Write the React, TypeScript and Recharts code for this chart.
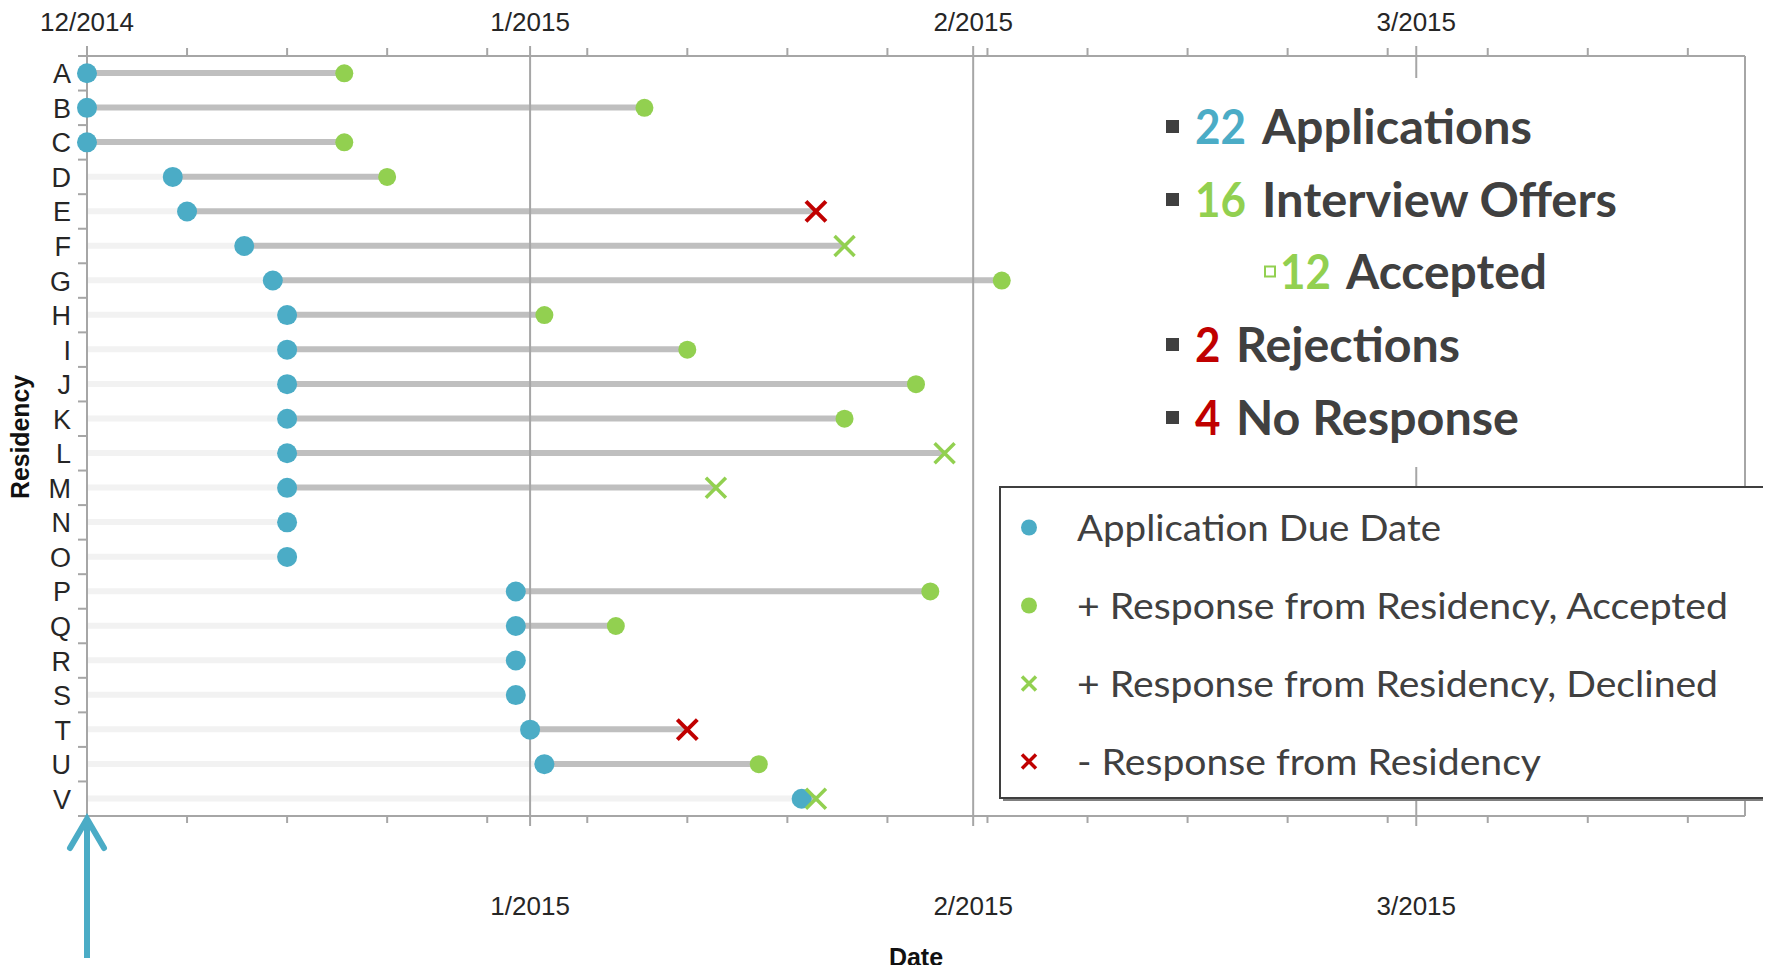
import React from "react";
import { ComposedChart, Bar, Scatter, XAxis, YAxis, ReferenceLine, Legend } from "recharts";

// Residencies, application due day and response day (days since 12/1/2014)
const residencies = ["A", "B", "C", "D", "E", "F", "G", "H", "I", "J", "K", "L", "M", "N", "O", "P", "Q", "R", "S", "T", "U", "V"];
const dueDay = [0, 0, 0, 6, 7, 11, 13, 14, 14, 14, 14, 14, 14, 14, 14, 30, 30, 30, 30, 31, 32, 50];
const responseDay = [18, 39, 18, 21, 51, 53, 64, 32, 42, 58, 53, 60, 44, null, null, 59, 37, null, null, 42, 47, 51];
const outcome = [
  "accepted", "accepted", "accepted", "accepted", "rejected", "declined", "accepted", "accepted", "accepted",
  "accepted", "accepted", "declined", "declined", "none", "none", "accepted", "accepted", "none", "none",
  "rejected", "accepted", "declined",
];

const monthTicks = [0, 31, 62, 93];
const monthLabels = ["12/2014", "1/2015", "2/2015", "3/2015"];
const weekTicks = [7, 14, 21, 28, 35, 42, 49, 56, 63, 70, 77, 84, 91, 98, 105, 112];
const xMax = 116;

const seriesOrder = ["due", "accepted", "declined", "rejected"];
const seriesNames = [
  "Application Due Date",
  "+ Response from Residency, Accepted",
  "+ Response from Residency, Declined",
  "- Response from Residency",
];

const BLUE = "#4BACC6";
const GREEN = "#92D050";
const RED = "#C00000";
const DARK = "#404040";
const AXIS = "#A6A6A6";

const TOP = 56;
const BOTTOM = 816;
const LEFT = 87;
const BAND = (BOTTOM - TOP) / residencies.length;

const rows = residencies.map((name, i) => {
  const resp = responseDay[i];
  return {
    name,
    due: dueDay[i],
    lead: dueDay[i],
    wait: resp == null ? 0 : resp - dueDay[i],
    accepted: outcome[i] === "accepted" ? resp : null,
    declined: outcome[i] === "declined" ? resp : null,
    rejected: outcome[i] === "rejected" ? resp : null,
  };
});

const count = (k: string) => outcome.filter((o) => o === k).length;
const nApps = residencies.length;
const nAccepted = count("accepted");
const nOffers = nAccepted + count("declined");
const nRejected = count("rejected");
const nNone = count("none");

const ok = (p: any) => Number.isFinite(p.cx) && Number.isFinite(p.cy);

const circleShape = (r: number, fill: string) => (p: any) =>
  ok(p) ? <circle cx={p.cx} cy={p.cy} r={r} fill={fill} /> : <g />;

const crossShape = (s: number, stroke: string, w: number) => (p: any) =>
  ok(p) ? (
    <path
      d={`M${p.cx - s},${p.cy - s}L${p.cx + s},${p.cy + s}M${p.cx + s},${p.cy - s}L${p.cx - s},${p.cy + s}`}
      stroke={stroke}
      strokeWidth={w}
      fill="none"
    />
  ) : (
    <g />
  );

const labelFont = "'Liberation Sans', Arial, sans-serif";

const TopTick = (props: any) => {
  const { x, payload } = props;
  const mi = monthTicks.indexOf(payload.value);
  return (
    <g>
      <line x1={x} x2={x} y1={TOP} y2={mi >= 0 ? 46 : 48} stroke={AXIS} strokeWidth={2} />
      {mi >= 0 && (
        <text x={x} y={31} textAnchor="middle" fontFamily={labelFont} fontSize={26} fill="#262626">
          {monthLabels[mi]}
        </text>
      )}
    </g>
  );
};

const BottomTick = (props: any) => {
  const { x, payload } = props;
  const mi = monthTicks.indexOf(payload.value);
  return (
    <g>
      <line x1={x} x2={x} y1={BOTTOM} y2={mi >= 0 ? 826 : 823} stroke={AXIS} strokeWidth={2} />
      {mi > 0 && (
        <text x={x} y={915} textAnchor="middle" fontFamily={labelFont} fontSize={26} fill="#262626">
          {monthLabels[mi]}
        </text>
      )}
    </g>
  );
};

const LeftTick = (props: any) => {
  const { y, payload, index } = props;
  const last = index === residencies.length - 1;
  return (
    <g>
      <line x1={LEFT - 9} x2={LEFT} y1={y - BAND / 2} y2={y - BAND / 2} stroke={AXIS} strokeWidth={2} />
      {last && <line x1={LEFT - 9} x2={LEFT} y1={y + BAND / 2} y2={y + BAND / 2} stroke={AXIS} strokeWidth={2} />}
      <text x={71} y={y + 10} textAnchor="end" fontFamily={labelFont} fontSize={27} fill="#262626">
        {payload.value}
      </text>
    </g>
  );
};

const legendWidths: Record<string, number> = { due: 364, accepted: 651, declined: 641, rejected: 464 };

const renderLegend = (props: any) => {
  const items = (props.payload || [])
    .filter((it: any) => seriesOrder.includes(it.dataKey))
    .sort((a: any, b: any) => seriesOrder.indexOf(a.dataKey) - seriesOrder.indexOf(b.dataKey));
  return (
    <svg width={774} height={320} style={{ display: "block" }}>
      <rect x={6} y={6} width={766} height={311} fill="#7F7F7F" />
      <rect x={3} y={3} width={766} height={311} fill="#fff" stroke="#3F3F3F" strokeWidth={2} />
      {items.map((it: any, i: number) => {
        const cy = 43.5 + i * 78;
        const key = it.dataKey;
        let marker;
        if (key === "due") marker = <circle cx={32} cy={cy} r={8} fill={BLUE} />;
        else if (key === "accepted") marker = <circle cx={32} cy={cy} r={8} fill={GREEN} />;
        else
          marker = (
            <path
              d={`M${25},${cy - 7}L${39},${cy + 7}M${39},${cy - 7}L${25},${cy + 7}`}
              stroke={key === "rejected" ? RED : GREEN}
              strokeWidth={3.5}
            />
          );
        return (
          <g key={key}>
            {marker}
            <text
              x={80}
              y={cy + 13}
              fontFamily="Lato, 'Open Sans', sans-serif"
              fontSize={37}
              fill={DARK}
              textLength={legendWidths[key]}
              lengthAdjust="spacingAndGlyphs"
            >
              {it.value}
            </text>
          </g>
        );
      })}
    </svg>
  );
};

const bold = { fontFamily: "Lato, 'Open Sans', sans-serif", fontWeight: 700, fontSize: 47 } as const;

function Annotation() {
  const lines = [
    { base: 144, num: String(nApps), color: BLUE, numX: 1195, word: "Applications", wordX: 1262, wordLen: 270, sub: false },
    { base: 217, num: String(nOffers), color: GREEN, numX: 1195, word: "Interview Offers", wordX: 1262, wordLen: 355, sub: false },
    { base: 289, num: String(nAccepted), color: GREEN, numX: 1280, word: "Accepted", wordX: 1346, wordLen: 201, sub: true },
    { base: 362, num: String(nRejected), color: RED, numX: 1195, word: "Rejections", wordX: 1236, wordLen: 224, sub: false },
    { base: 435, num: String(nNone), color: RED, numX: 1195, word: "No Response", wordX: 1236, wordLen: 283, sub: false },
  ];
  return (
    <svg width={1771} height={973} style={{ position: "absolute", left: 0, top: 0, pointerEvents: "none" }}>
      <rect x={1150} y={78} width={590} height={389} fill="#fff" />
      {lines.map((l) => (
        <g key={l.word}>
          {l.sub ? (
            <rect x={1265} y={l.base - 22.5} width={10} height={10} fill="none" stroke={GREEN} strokeWidth={2} />
          ) : (
            <rect x={1166} y={l.base - 24} width={13} height={13} fill={DARK} />
          )}
          <text x={l.numX} y={l.base} {...bold} fill={l.color} textLength={l.num.length * 25.5} lengthAdjust="spacingAndGlyphs">
            {l.num}
          </text>
          <text x={l.wordX} y={l.base} {...bold} fill={DARK} textLength={l.wordLen} lengthAdjust="spacingAndGlyphs">
            {l.word}
          </text>
        </g>
      ))}
      <text
        x={29}
        y={437}
        transform="rotate(-90 29 437)"
        textAnchor="middle"
        fontFamily={labelFont}
        fontWeight={700}
        fontSize={26}
        fill="#111"
        textLength={124}
        lengthAdjust="spacingAndGlyphs"
      >
        Residency
      </text>
      <text x={916} y={966} textAnchor="middle" fontFamily={labelFont} fontWeight={700} fontSize={25} fill="#111">
        Date
      </text>
      <line x1={LEFT} x2={LEFT} y1={824} y2={958} stroke={BLUE} strokeWidth={6} />
      <polyline points={`${LEFT - 17},${848} ${LEFT},${819} ${LEFT + 17},${848}`} fill="none" stroke={BLUE} strokeWidth={6} strokeLinecap="round" />
    </svg>
  );
}

export default function App() {
  const allTicks = [...monthTicks, ...weekTicks];
  return (
    <div style={{ position: "relative", width: 1771, height: 973, margin: -8, background: "#fff" }}>
      <ComposedChart
        width={1771}
        height={973}
        data={rows}
        layout="vertical"
        margin={{ top: 0, right: 1771 - 1745, bottom: 0, left: 0 }}
      >
        <XAxis
          xAxisId="top"
          orientation="top"
          type="number"
          domain={[0, xMax]}
          ticks={allTicks}
          interval={0}
          height={TOP}
          axisLine={{ stroke: AXIS, strokeWidth: 2 }}
          tickLine={false}
          tick={<TopTick />}
        />
        <XAxis
          xAxisId="bottom"
          orientation="bottom"
          type="number"
          domain={[0, xMax]}
          ticks={allTicks}
          interval={0}
          height={973 - BOTTOM}
          axisLine={{ stroke: AXIS, strokeWidth: 2 }}
          tickLine={false}
          tick={<BottomTick />}
        />
        <YAxis
          type="category"
          dataKey="name"
          width={LEFT}
          interval={0}
          axisLine={{ stroke: AXIS, strokeWidth: 2 }}
          tickLine={false}
          tick={<LeftTick />}
        />
        {monthTicks.slice(1).map((m) => (
          <ReferenceLine key={m} xAxisId="bottom" x={m} stroke={AXIS} strokeWidth={2} />
        ))}
        <ReferenceLine xAxisId="bottom" x={xMax} stroke={AXIS} strokeWidth={2} />
        <Bar xAxisId="bottom" dataKey="lead" stackId="r" fill="#F2F2F2" barSize={6} legendType="none" isAnimationActive={false} />
        <Bar xAxisId="bottom" dataKey="wait" stackId="r" fill="#BFBFBF" barSize={6} legendType="none" isAnimationActive={false} />
        <Scatter xAxisId="top" name={seriesNames[0]} dataKey="due" fill={BLUE} shape={circleShape(10, BLUE)} isAnimationActive={false} />
        <Scatter xAxisId="bottom" name={seriesNames[1]} dataKey="accepted" fill={GREEN} shape={circleShape(9, GREEN)} isAnimationActive={false} />
        <Scatter xAxisId="bottom" name={seriesNames[2]} dataKey="declined" fill={GREEN} shape={crossShape(10, GREEN, 3.5)} isAnimationActive={false} />
        <Scatter xAxisId="bottom" name={seriesNames[3]} dataKey="rejected" fill={RED} shape={crossShape(10, RED, 4)} isAnimationActive={false} />
        <Legend
          layout="horizontal"
          verticalAlign="middle"
          align="center"
          content={renderLegend}
          wrapperStyle={{ left: 997, top: 484, width: 774, height: 320 }}
        />
      </ComposedChart>
      <Annotation />
    </div>
  );
}
